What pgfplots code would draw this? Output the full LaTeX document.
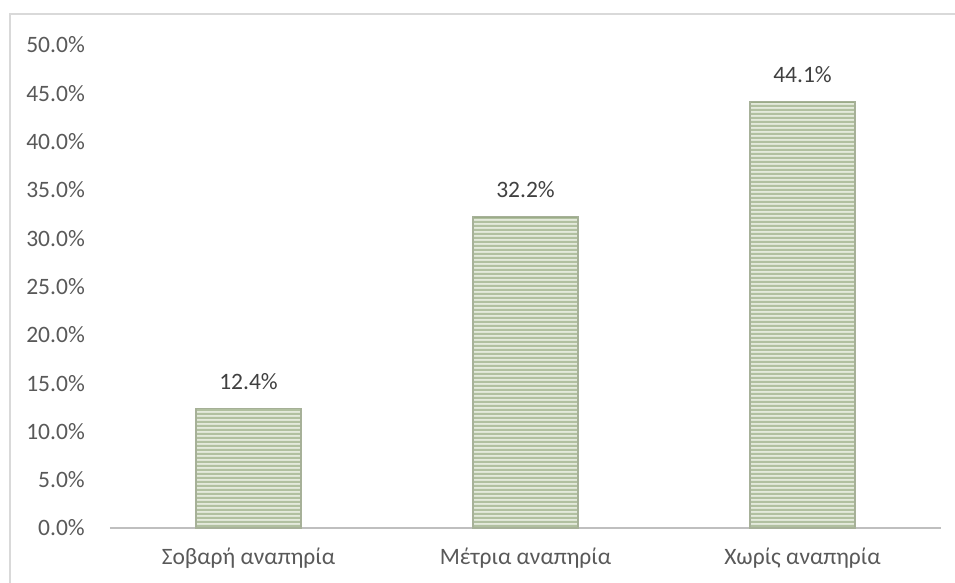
\documentclass[border=0pt]{standalone}
\usepackage{fontspec}
\setmainfont{Carlito}
\usepackage{pgfplots}
\usepackage{pgfplotstable}
\pgfplotsset{compat=1.18}
\usetikzlibrary{patterns.meta}

\definecolor{tickgray}{HTML}{595959}
\definecolor{labelgray}{HTML}{404040}
\definecolor{framegray}{HTML}{D9D9D9}
\definecolor{axisgray}{HTML}{BFBFBF}
\definecolor{stripegreen}{HTML}{96AA80}
\definecolor{stripelight}{HTML}{E4EADC}
\definecolor{baredge}{HTML}{A7B199}

\tikzdeclarepattern{
  name=hstripes,
  type=uncolored,
  bounding box={(0pt,0pt) and (1pt,4.4pt)},
  tile size={(1pt,4.4pt)},
  code={\pgfpathrectangle{\pgfpointorigin}{\pgfpoint{1pt}{2.5pt}}\pgfusepath{fill}}
}

\pgfplotstableread{
x y
0 12.4
1 32.2
2 44.1
}\disability

\begin{document}
\begin{tikzpicture}
\useasboundingbox (-110pt,-55pt) rectangle (845pt,528pt);
\draw[framegray, line width=1.5pt] (-100pt,-56pt) -- (-100pt,514pt) -- (846pt,514pt);
\begin{axis}[
  at={(0pt,0pt)}, anchor=south west,
  scale only axis,
  width=831pt, height=483pt,
  xmin=-0.5, xmax=2.5,
  ymin=0, ymax=50,
  axis y line=none,
  axis x line*=bottom,
  x axis line style={axisgray, line width=2pt, -},
  xtick={0,1,2},
  xticklabels={Σοβαρή αναπηρία, Μέτρια αναπηρία, Χωρίς αναπηρία},
  major tick length=0pt,
  font=\fontsize{23.5pt}{28pt}\selectfont,
  xticklabel style={anchor=base, inner sep=0pt, yshift=-36pt, text=tickgray},
  clip=false,
]
% y tick labels drawn by hand since the y axis line is hidden
\pgfplotsextra{
  \foreach \v in {0,5,...,50} {
    \node[anchor=east, inner sep=0pt, text=tickgray] at (axis cs:-0.5,\v) [xshift=-25pt]
      {\pgfmathprintnumber[fixed, fixed zerofill, precision=1, assume math mode=true]{\v}\%};
  }
}
\addplot[ybar, bar width=105pt, bar shift=0pt, fill=stripelight, draw=baredge, line width=1.2pt]
  table[x=x, y=y] {\disability};
\addplot[ybar, bar width=103pt, bar shift=0pt, draw=none, pattern=hstripes, pattern color=stripegreen,
  nodes near coords={\pgfmathprintnumber[fixed, fixed zerofill, precision=1, assume math mode=true]{\pgfplotspointmeta}\%},
  every node near coord/.append style={anchor=base, inner sep=0pt, yshift=19pt, text=labelgray}]
  table[x=x, y=y] {\disability};
\end{axis}
\end{tikzpicture}
\end{document}
